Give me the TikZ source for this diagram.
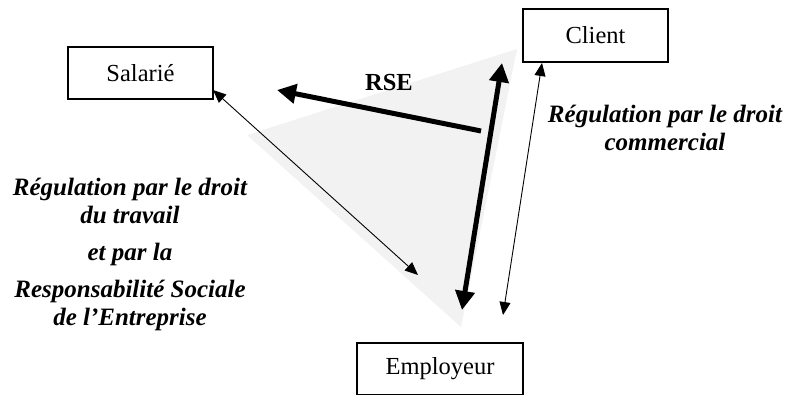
\documentclass[tikz,border=0pt]{standalone}
\usepackage{fontspec}
\setmainfont{Liberation Serif}
\usetikzlibrary{arrows.meta}

\tikzset{
  actor/.style={rectangle, draw=black, line width=1.2pt, fill=white, minimum height=52pt, inner sep=0pt, font=\fontsize{24.5}{29}\selectfont},
  regul/.style={align=center, font=\fontsize{25}{28}\selectfont\bfseries\itshape},
  heavy/.style={line width=5pt},
  light/.style={line width=0.9pt},
  bigtip/.tip={Triangle[length=19pt, width=19pt]},
  smalltip/.tip={Triangle[length=13pt, width=11pt]}
}

\begin{document}
\begin{tikzpicture}[x=1pt, y=-1pt]

\useasboundingbox (0,0) rectangle (789,394);

\fill[black!5] (247,135) -- (517,49) -- (461,327) -- cycle;

\node[actor, minimum width=145pt] (S) at (140.5,73) {Salarié};
\node[actor, minimum width=145pt, minimum height=53pt] (C) at (595.5,35.5) {Client};
\node[actor, minimum width=166pt] (E) at (440,369) {Employeur};

\node[font=\fontsize{24.5}{29}\selectfont\bfseries, anchor=base] (rse) at (389,90) {RSE};

\coordinate (rseA) at (481,131);
\coordinate (rseB) at (277,90);
\coordinate (ceA) at (502,63);
\coordinate (ceB) at (462,310);
\coordinate (ceC) at (542,63);
\coordinate (ceD) at (503,315);
\coordinate (seA) at (213,90);
\coordinate (seB) at (418,275);

\draw[heavy, -bigtip] (rseA) -- (rseB);
\draw[heavy, bigtip-bigtip] (ceA) -- (ceB);
\draw[light, smalltip-smalltip] (ceC) -- (ceD);
\draw[light, smalltip-smalltip] (seA) -- (seB);

\node[regul, anchor=base] (droitT) at (130,325) {Régulation par le droit\\du travail\\[9pt]et par la\\[9pt]Responsabilité Sociale\\de l’Entreprise};
\node[regul, anchor=base] (droitC) at (665,150) {Régulation par le droit\\commercial};

\end{tikzpicture}
\end{document}
